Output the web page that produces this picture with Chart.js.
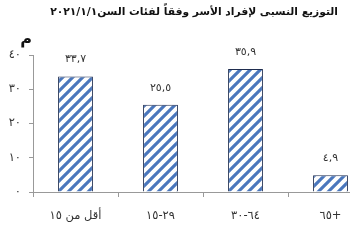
<!DOCTYPE html>
<html><head><meta charset="utf-8">
<script src="https://cdn.jsdelivr.net/npm/chart.js@4"></script>
<style>html,body{margin:0;padding:0;overflow:hidden;background:#fff}#wrap{width:380px;height:250px;position:relative}</style>
</head><body><div id="wrap"><canvas id="c" width="380" height="250"></canvas></div>
<script>
const categories = ["أقل من ١٥", "١٥\u200E-\u200E٢٩", "٣٠\u200E-\u200E٦٤", "٦٥+"];
const values = [33.7, 25.5, 35.9, 4.9];
const valueLabels = ["٣٣,٧", "٢٥,٥", "٣٥,٩", "٤,٩"];
const yTicks = [0, 10, 20, 30, 40];
const yTickLabels = ["٠", "١٠", "٢٠", "٣٠", "٤٠"];
const titleText = "التوزيع النسبى لإفراد الأسر وفقاً لفئات السن٢٠٢١/١/١";
const unitText = "م";

function makePattern() {
  const p = document.createElement('canvas');
  p.width = 10; p.height = 10;
  const g = p.getContext('2d');
  g.fillStyle = '#ffffff'; g.fillRect(0, 0, 10, 10);
  g.strokeStyle = '#4a77bd'; g.lineWidth = 3.1; g.lineCap = 'square';
  g.beginPath();
  g.moveTo(-2, 12); g.lineTo(12, -2);
  g.moveTo(-7, 7); g.lineTo(7, -7);
  g.moveTo(3, 17); g.lineTo(17, 3);
  g.stroke();
  return document.getElementById('c').getContext('2d').createPattern(p, 'repeat');
}

const textPlugin = {
  id: 'texts',
  afterDatasetsDraw(chart) {
    const ctx = chart.ctx;
    const meta = chart.getDatasetMeta(0);
    ctx.save();
    ctx.font = '11px "DejaVu Sans", sans-serif';
    ctx.fillStyle = '#333';
    ctx.textAlign = 'center';
    ctx.textBaseline = 'middle';
    meta.data.forEach((bar, i) => {
      ctx.fillText(valueLabels[i], bar.x, bar.y - 17);
    });
    ctx.restore();
  },
  afterDraw(chart) {
    const ctx = chart.ctx;
    ctx.save();
    ctx.fillStyle = '#111';
    ctx.textBaseline = 'middle';
    ctx.direction = 'rtl';
    ctx.textAlign = 'right';
    let size = 13;
    ctx.font = 'bold ' + size + 'px "DejaVu Sans", sans-serif';
    const w = ctx.measureText(titleText).width;
    size = Math.max(9, Math.min(15, size * 288 / w));
    ctx.font = 'bold ' + size.toFixed(2) + 'px "DejaVu Sans", sans-serif';
    ctx.fillText(titleText, 338, 12);
    ctx.font = 'bold 16px "DejaVu Sans", sans-serif';
    ctx.textAlign = 'center';
    ctx.fillText(unitText, 26, 40);
    ctx.restore();
  }
};

new Chart(document.getElementById('c'), {
  type: 'bar',
  data: {
    labels: categories,
    datasets: [{
      data: values,
      backgroundColor: makePattern(),
      borderColor: '#1f2d4f',
      borderWidth: 1,
      barPercentage: 0.41,
      categoryPercentage: 1
    }]
  },
  options: {
    responsive: false,
    devicePixelRatio: 1,
    animation: false,
    layout: { padding: { top: 55, right: 7, left: 0, bottom: 0 } },
    plugins: { legend: { display: false }, title: { display: false }, tooltip: { enabled: false } },
    scales: {
      x: {
        grid: { offset: true, drawOnChartArea: false, drawTicks: true, tickLength: 5, color: '#999' },
        border: { color: '#999' },
        ticks: { font: { size: 11.5, family: '"DejaVu Sans", sans-serif' }, color: '#333', padding: 12, maxRotation: 0 },
        afterFit: s => { s.height = 58; }
      },
      y: {
        min: 0, max: 40,
        afterBuildTicks: s => { s.ticks = yTicks.map(v => ({ value: v })); },
        grid: { drawOnChartArea: false, drawTicks: true, tickLength: 4, color: '#999' },
        border: { color: '#999' },
        ticks: {
          font: { size: 11.5, family: '"DejaVu Sans", sans-serif' }, color: '#333', padding: 8,
          callback: v => yTickLabels[yTicks.indexOf(v)]
        },
        afterFit: s => { s.width = 33; }
      }
    }
  },
  plugins: [textPlugin]
});
</script>
</body></html>
